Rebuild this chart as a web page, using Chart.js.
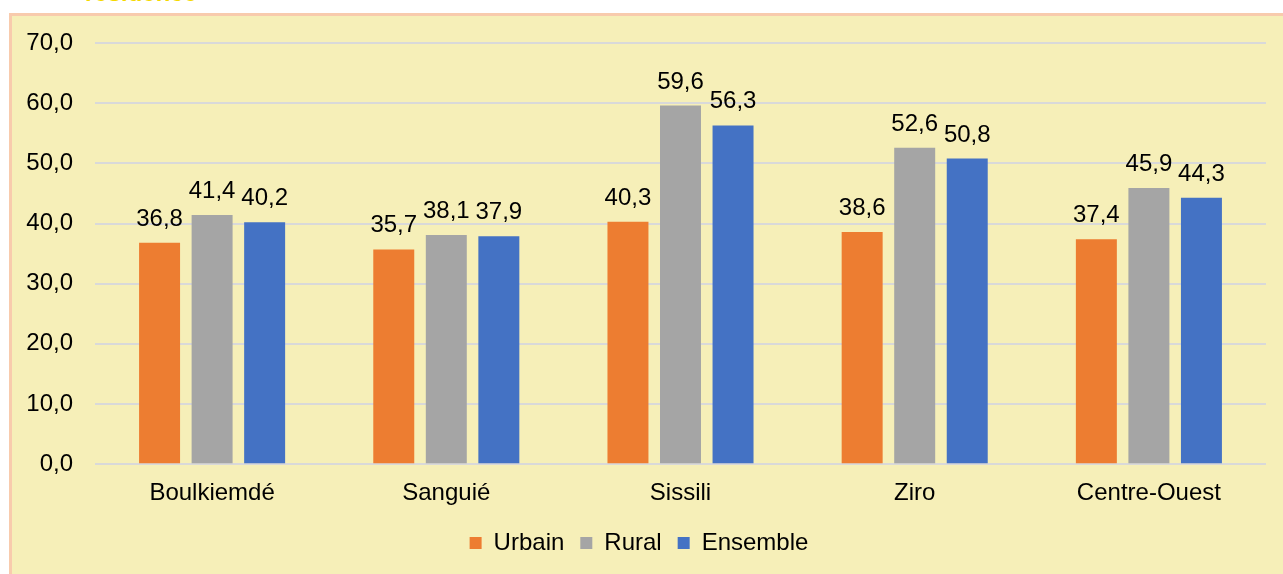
<!DOCTYPE html>
<html>
<head>
<meta charset="utf-8">
<script src="https://cdn.jsdelivr.net/npm/chart.js@4/dist/chart.umd.min.js"></script>
<style>
    body { margin:0; background:#fff; width:1283px; height:574px; overflow:hidden; position:relative; font-family:"Liberation Sans", Arial, sans-serif; }
    #titre { position:absolute; left:85px; top:-19px; font-size:24px; line-height:24px; font-weight:bold; color:#f5d800; white-space:nowrap; }
    #cadre { position:absolute; left:9px; top:13px; width:1300px; height:600px; border:3px solid #f8cbad; background:#f6efb8; }
    #boite { position:absolute; left:12px; top:16px; width:1271px; height:558px; }
</style>
</head>
<body>
<div id="titre">résidence</div>
<div id="cadre"></div>
<div id="boite"><canvas id="graph"></canvas></div>
<script>
var provinces = ['Boulkiemdé', 'Sanguié', 'Sissili', 'Ziro', 'Centre-Ouest'];
var urbain = [36.8, 35.7, 40.3, 38.6, 37.4];
var rural = [41.4, 38.1, 59.6, 52.6, 45.9];
var ensemble = [40.2, 37.9, 56.3, 50.8, 44.3];
var yMin = 0, yMax = 70, yPas = 10;

var police = '"Liberation Sans", Arial, sans-serif';
var taille = 24;

function virgule(v){
    return Number(v).toFixed(1).replace('.', ',');
}

// etiquettes au-dessus des barres
var etiquettes = {
    id:'etiquettes',
    afterDatasetsDraw:function(chart){
        var ctx = chart.ctx;
        ctx.save();
        ctx.font = taille + 'px ' + police;
        ctx.fillStyle = '#000';
        ctx.textAlign = 'center';
        ctx.textBaseline = 'alphabetic';
        chart.data.datasets.forEach(function(ds, i){
            chart.getDatasetMeta(i).data.forEach(function(bar, j){
                ctx.fillText(virgule(ds.data[j]), bar.x, bar.y - 17);
            });
        });
        ctx.restore();
    }
};

var graph = new Chart(document.getElementById('graph'), {
    type:'bar',
    data:{
        labels:provinces,
        datasets:[{
            label:'Urbain',
            data:urbain,
            backgroundColor:'#ed7d31'
        },
            {
                label:'Rural',
                data:rural,
                backgroundColor:'#a5a5a5'
            },
            {
                label:'Ensemble',
                data:ensemble,
                backgroundColor:'#4472c4'
            }]
    },
    options:{
        responsive:true,
        maintainAspectRatio:false,
        animation:false,
        layout:{padding:{left:0, right:17, top:27, bottom:9}},
        datasets:{bar:{categoryPercentage:0.673, barPercentage:0.78}},
        plugins:{
            legend:{
                position:'bottom',
                labels:{boxWidth:12, boxHeight:12, color:'#000', font:{size:taille, family:police}, padding:16}
            },
            tooltip:{enabled:false}
        },
        scales:{
            x:{
                grid:{display:false},
                border:{display:false},
                ticks:{color:'#000', font:{size:taille, family:police}, padding:7}
            },
            y:{
                min:yMin,
                max:yMax,
                border:{display:false},
                grid:{color:'#d9d9d9', lineWidth:2, drawTicks:false},
                ticks:{stepSize:yPas, color:'#000', font:{size:taille, family:police}, padding:22, callback:function(v){ return virgule(v); }},
                afterFit:function(scale){
                    scale.width = 83;
                    scale.paddingTop = 0;
                    scale.paddingBottom = 0;
                }
            }
        }
    },
    plugins:[etiquettes]
});
</script>
</body>
</html>
